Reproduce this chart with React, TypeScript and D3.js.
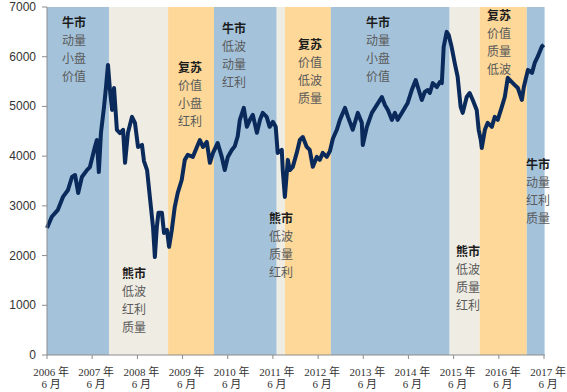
import React from "react";
import * as d3 from "d3";

// index level
const dates = [
  "2006-06-01", "2006-07-10", "2006-08-28", "2006-10-08", "2006-11-18", "2006-12-20",
  "2007-01-14", "2007-02-08", "2007-03-10", "2007-04-20", "2007-05-14", "2007-06-23",
  "2007-07-09", "2007-07-25", "2007-08-11", "2007-09-05", "2007-09-21", "2007-10-07",
  "2007-10-23", "2007-11-09", "2007-11-25", "2007-12-18", "2008-01-12", "2008-02-06",
  "2008-02-22", "2008-03-16", "2008-04-18", "2008-05-12", "2008-06-06", "2008-07-08",
  "2008-07-24", "2008-08-18", "2008-09-12", "2008-10-05", "2008-10-20", "2008-11-05",
  "2008-11-18", "2008-12-16", "2009-01-02", "2009-01-26", "2009-02-12", "2009-03-06",
  "2009-03-30", "2009-04-23", "2009-05-25", "2009-06-19", "2009-07-13", "2009-08-23",
  "2009-09-25", "2009-10-19", "2009-11-13", "2009-12-14", "2010-01-08", "2010-02-02",
  "2010-03-12", "2010-04-14", "2010-05-08", "2010-06-02", "2010-07-04", "2010-07-28",
  "2010-08-21", "2010-09-07", "2010-10-09", "2010-11-03", "2010-11-27", "2010-12-21",
  "2011-01-23", "2011-02-17", "2011-03-11", "2011-04-12", "2011-05-06", "2011-06-01",
  "2011-06-24", "2011-07-10", "2011-08-12", "2011-08-20", "2011-09-06", "2011-09-30",
  "2011-10-16", "2011-11-09", "2011-12-11", "2012-01-05", "2012-01-29", "2012-03-01",
  "2012-03-25", "2012-04-19", "2012-05-21", "2012-06-14", "2012-07-08", "2012-08-10",
  "2012-09-04", "2012-09-28", "2012-10-30", "2012-11-24", "2013-01-04", "2013-01-28",
  "2013-03-08", "2013-04-18", "2013-05-20", "2013-05-28", "2013-06-30", "2013-08-09",
  "2013-09-19", "2013-10-29", "2013-11-23", "2013-12-17", "2014-01-18", "2014-02-12",
  "2014-03-06", "2014-04-08", "2014-05-02", "2014-05-26", "2014-06-28", "2014-07-30",
  "2014-08-16", "2014-09-17", "2014-10-11", "2014-11-05", "2014-11-21", "2014-12-15",
  "2015-01-17", "2015-02-10", "2015-02-26", "2015-03-13", "2015-04-06", "2015-04-22",
  "2015-05-16", "2015-06-10", "2015-07-04", "2015-07-28", "2015-08-14", "2015-09-15",
  "2015-10-09", "2015-11-03", "2015-12-05", "2015-12-21", "2016-01-07", "2016-01-15",
  "2016-02-09", "2016-03-03", "2016-04-05", "2016-04-29", "2016-05-23", "2016-06-25",
  "2016-07-19", "2016-08-12", "2016-09-14", "2016-10-08", "2016-11-02", "2016-12-04",
  "2016-12-20", "2017-01-22", "2017-02-24", "2017-03-18", "2017-04-11", "2017-05-14",
  "2017-05-30",
];
const values = [
  2555, 2780, 2920, 3180, 3320, 3580,
  3620, 3260, 3580, 3720, 3780, 4185,
  4325, 3680, 4465, 4990, 5390, 5835,
  5330, 4930, 5370, 4530, 4465, 4530,
  3865, 4465, 4790, 4670, 4185, 4225,
  3900, 3720, 3120, 2575, 1970, 2575,
  2860, 2860, 2455, 2515, 2175, 2515,
  2980, 3260, 3520, 3925, 4025, 3985,
  4185, 4325, 4185, 4285, 3865, 4065,
  4265, 3985, 3720, 3985, 4125, 4200,
  4400, 4730, 4970, 4590, 4730, 4830,
  4470, 4730, 4870, 4790, 4590, 4690,
  4590, 4065, 4125, 3720, 3180, 3925,
  3720, 3785, 4065, 4325, 4385, 4185,
  4125, 3785, 3985, 3925, 4065, 3985,
  4100, 4350, 4530, 4730, 4970, 4790,
  4530, 4870, 4670, 4225, 4590, 4870,
  5030, 5190, 5030, 4930, 4730, 4870,
  4730, 4870, 4970, 5070, 5330, 5530,
  5390, 5130, 5290, 5330, 5270, 5470,
  5390, 5490, 5470, 6200, 6500, 6440,
  6200, 5875, 5595, 4990, 4870, 5190,
  5270, 5130, 4930, 4530, 4325, 4165,
  4530, 4670, 4590, 4790, 4730, 4990,
  5190, 5575, 5490, 5430, 5370, 5130,
  5390, 5735, 5675, 5875, 6000, 6200,
  6240,
];

// market regimes
const regimeStarts = [
  "2006-06-01", "2007-10-15", "2009-02-04", "2010-02-10", "2011-07-02",
  "2011-09-06", "2012-09-12", "2015-04-30", "2015-12-29", "2017-01-13",
];
const regimeEnd = "2017-06-06";
const regimeTypes = ["牛市", "熊市", "复苏", "牛市", "熊市", "复苏", "牛市", "熊市", "复苏", "牛市"];
const regimeFactors = [
  ["动量", "小盘", "价值"],
  ["低波", "红利", "质量"],
  ["价值", "小盘", "红利"],
  ["低波", "动量", "红利"],
  ["低波", "质量", "红利"],
  ["价值", "低波", "质量"],
  ["动量", "小盘", "价值"],
  ["低波", "质量", "红利"],
  ["价值", "质量", "低波"],
  ["动量", "红利", "质量"],
];

const yTicks = [0, 1000, 2000, 3000, 4000, 5000, 6000, 7000];
const xTickYears = [2006, 2007, 2008, 2009, 2010, 2011, 2012, 2013, 2014, 2015, 2016, 2017];

// where each regime's caption sits
const labelPos: [number, number][] = [
  [62, 21], [122, 272], [178, 66], [222, 27], [269, 217],
  [298, 43], [366, 21], [456, 250], [487, 14], [526, 163],
];

const bandColor: Record<string, string> = {
  "牛市": "#a4c3db",
  "熊市": "#efece3",
  "复苏": "#fdd898",
};

const width = 567;
const height = 392;
const left = 47;
const right = 544;
const top = 7;
const bottom = 355;

export default function App() {
  const parse = d3.timeParse("%Y-%m-%d");
  const x = d3
    .scaleTime()
    .domain([parse("2006-06-01")!, parse("2017-06-01")!])
    .range([left, right]);
  const y = d3.scaleLinear().domain([0, 7000]).range([bottom, top]);

  const points = dates.map((d, i) => ({ date: parse(d)!, value: values[i] }));
  const line = d3
    .line<{ date: Date; value: number }>()
    .x((d) => x(d.date))
    .y((d) => y(d.value));

  const bandEdges = [...regimeStarts, regimeEnd].map((d) => x(parse(d)!));
  const lineGap = 18.3;
  const cjk = '"Noto Sans CJK SC", sans-serif';

  return (
    <svg
      width={width}
      height={height}
      style={{ position: "absolute", left: 0, top: 0, background: "#fff" }}
    >
      {regimeTypes.map((t, i) => (
        <rect
          key={"b" + i}
          x={bandEdges[i]}
          y={top}
          width={bandEdges[i + 1] - bandEdges[i]}
          height={bottom - top}
          fill={bandColor[t]}
        />
      ))}

      {regimeTypes.map((t, i) => (
        <g key={"l" + i} fontFamily={cjk} fontSize={12}>
          <text
            x={labelPos[i][0]}
            y={labelPos[i][1]}
            dominantBaseline="central"
            fontWeight="bold"
            fill="#1c1c1c"
          >
            {t}
          </text>
          {regimeFactors[i].map((f, j) => (
            <text
              key={j}
              x={labelPos[i][0]}
              y={labelPos[i][1] + lineGap * (j + 1)}
              dominantBaseline="central"
              fill="#5a5a5a"
            >
              {f}
            </text>
          ))}
        </g>
      ))}

      <path
        d={line(points) ?? ""}
        fill="none"
        stroke="#0b2a5c"
        strokeWidth={4}
        strokeLinejoin="round"
      />

      {/* y axis */}
      <line x1={left} x2={left} y1={top} y2={bottom} stroke="#8c8c8c" />
      {yTicks.map((v) => (
        <g key={"y" + v}>
          <line x1={left - 5} x2={left} y1={y(v)} y2={y(v)} stroke="#8c8c8c" />
          <text
            x={36}
            y={y(v)}
            textAnchor="end"
            dominantBaseline="central"
            fontFamily="Arial, 'Liberation Sans', sans-serif"
            fontSize={12}
            fill="#333"
          >
            {v}
          </text>
        </g>
      ))}

      {/* x axis */}
      <line x1={left} x2={right + 1} y1={bottom} y2={bottom} stroke="#8c8c8c" />
      {xTickYears.map((yr) => {
        const px = x(new Date(yr, 5, 1));
        return (
          <g key={"x" + yr}>
            <line x1={px} x2={px} y1={bottom} y2={bottom + 4} stroke="#8c8c8c" />
            <text
              x={px + 4}
              y={372}
              textAnchor="middle"
              dominantBaseline="central"
              fontFamily={`"Liberation Serif", "Times New Roman", ${cjk}`}
              fontSize={11}
              fill="#333"
            >
              {yr} 年
            </text>
            <text
              x={px + 4}
              y={384}
              textAnchor="middle"
              dominantBaseline="central"
              fontFamily={`"Liberation Serif", "Times New Roman", ${cjk}`}
              fontSize={11}
              fill="#333"
            >
              6 月
            </text>
          </g>
        );
      })}
    </svg>
  );
}
